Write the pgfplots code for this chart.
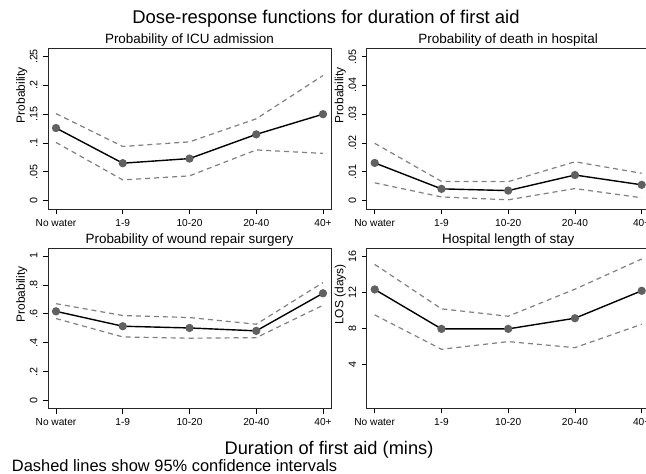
\documentclass[border=0pt]{standalone}
\usepackage{pgfplots}
\pgfplotsset{compat=1.18}
\usepackage{pgfplotstable}
\usepackage{fontspec}
\setmainfont{Liberation Sans}

% columns: category index, estimate, lower and upper 95% limits
\pgfplotstableread{
x m lo hi
0 0.126 0.101 0.151
1 0.065 0.036 0.094
2 0.073 0.043 0.102
3 0.115 0.088 0.142
4 0.150 0.082 0.217
}\icu
\pgfplotstableread{
x m lo hi
0 0.0131 0.0062 0.0199
1 0.0041 0.0013 0.0067
2 0.0035 0.0003 0.0066
3 0.0089 0.0042 0.0135
4 0.0055 0.0010 0.0095
}\death
\pgfplotstableread{
x m lo hi
0 0.617 0.567 0.670
1 0.514 0.440 0.588
2 0.502 0.431 0.574
3 0.482 0.435 0.528
4 0.742 0.659 0.816
}\wound
\pgfplotstableread{
x m lo hi
0 12.30 9.48 15.07
1 7.93 5.67 10.15
2 7.93 6.52 9.33
3 9.11 5.85 12.33
4 12.15 8.44 15.67
}\los

\pgfplotsset{
  panel/.style={
    scale only axis, anchor=south west, clip=false,
    width=283bp,
    xmin=-0.12, xmax=4.12,
    xtick={0,1,2,3,4},
    xticklabels={No water,1-9,10-20,20-40,40+},
    scaled y ticks=false,
    tick pos=left, tick align=outside, major tick length=5bp,
    axis line style={black!85, line width=0.8bp},
    tick style={black, line width=0.8bp},
    xticklabel style={font=\fontsize{10.2}{12}\selectfont, anchor=base},
    xticklabel shift=12bp,
    yticklabel style={font=\fontsize{10.8}{12}\selectfont, rotate=90, anchor=base},
    yticklabel shift=5.7bp,
    every axis y label/.style={at={(axis description cs:-0.093,0.71)}, rotate=90, anchor=center,
      font=\fontsize{12}{14}\selectfont},
    every axis title/.style={at={(0.5,1)}, anchor=base, yshift=4.5bp,
      font=\fontsize{13.5}{16}\selectfont},
  },
  ci/.style={draw=black!50, line width=1.2bp, dash pattern=on 5bp off 4bp},
  est/.style={draw=black, line width=1.4bp, mark=*, mark size=3.4bp,
    mark options={solid, fill=black!62, draw=black!62}},
}

\begin{document}
\begin{tikzpicture}
\path[use as bounding box, fill=white] (0bp,0bp) rectangle (646bp,474bp);
\clip (0bp,0bp) rectangle (646bp,474bp);

\node[font=\fontsize{18.5}{22}\selectfont, anchor=base] at (326bp,450.7bp)
  {Dose-response functions for duration of first aid};

\begin{axis}[panel, at={(48bp,264.5bp)}, height=161bp,
  ymin=-0.0153, ymax=0.2639,
  ytick={0,0.05,0.1,0.15,0.2,0.25}, yticklabels={0,.05,.1,.15,.2,.25},
  ylabel={Probability}, title={Probability of ICU admission}]
\addplot[ci] table[x=x, y=lo] {\icu};
\addplot[ci] table[x=x, y=hi] {\icu};
\addplot[est] table[x=x, y=m] {\icu};
\end{axis}

\begin{axis}[panel, at={(366.7bp,264.5bp)}, height=161bp,
  ymin=-0.00306, ymax=0.0528,
  ytick={0,0.01,0.02,0.03,0.04,0.05}, yticklabels={0,.01,.02,.03,.04,.05},
  ylabel={Probability}, title={Probability of death in hospital}]
\addplot[ci] table[x=x, y=lo] {\death};
\addplot[ci] table[x=x, y=hi] {\death};
\addplot[est] table[x=x, y=m] {\death};
\end{axis}

\begin{axis}[panel, at={(48bp,65.5bp)}, height=160.5bp,
  ymin=-0.0554, ymax=1.0554,
  ytick={0,0.2,0.4,0.6,0.8,1}, yticklabels={0,.2,.4,.6,.8,1},
  ylabel={Probability}, title={Probability of wound repair surgery}]
\addplot[ci] table[x=x, y=lo] {\wound};
\addplot[ci] table[x=x, y=hi] {\wound};
\addplot[est] table[x=x, y=m] {\wound};
\end{axis}

\begin{axis}[panel, at={(366.7bp,65.5bp)}, height=160.5bp,
  ymin=-0.89, ymax=16.89,
  ytick={4,8,12,16}, yticklabels={4,8,12,16},
  ylabel={LOS (days)}, title={Hospital length of stay}]
\addplot[ci] table[x=x, y=lo] {\los};
\addplot[ci] table[x=x, y=hi] {\los};
\addplot[est] table[x=x, y=m] {\los};
\end{axis}

\node[font=\fontsize{18.3}{22}\selectfont, anchor=base] at (329bp,19.7bp)
  {Duration of first aid (mins)};
\node[font=\fontsize{16.5}{20}\selectfont, anchor=base west, inner sep=0pt] at (11.7bp,3bp)
  {Dashed lines show 95\% confidence intervals};
\end{tikzpicture}
\end{document}
